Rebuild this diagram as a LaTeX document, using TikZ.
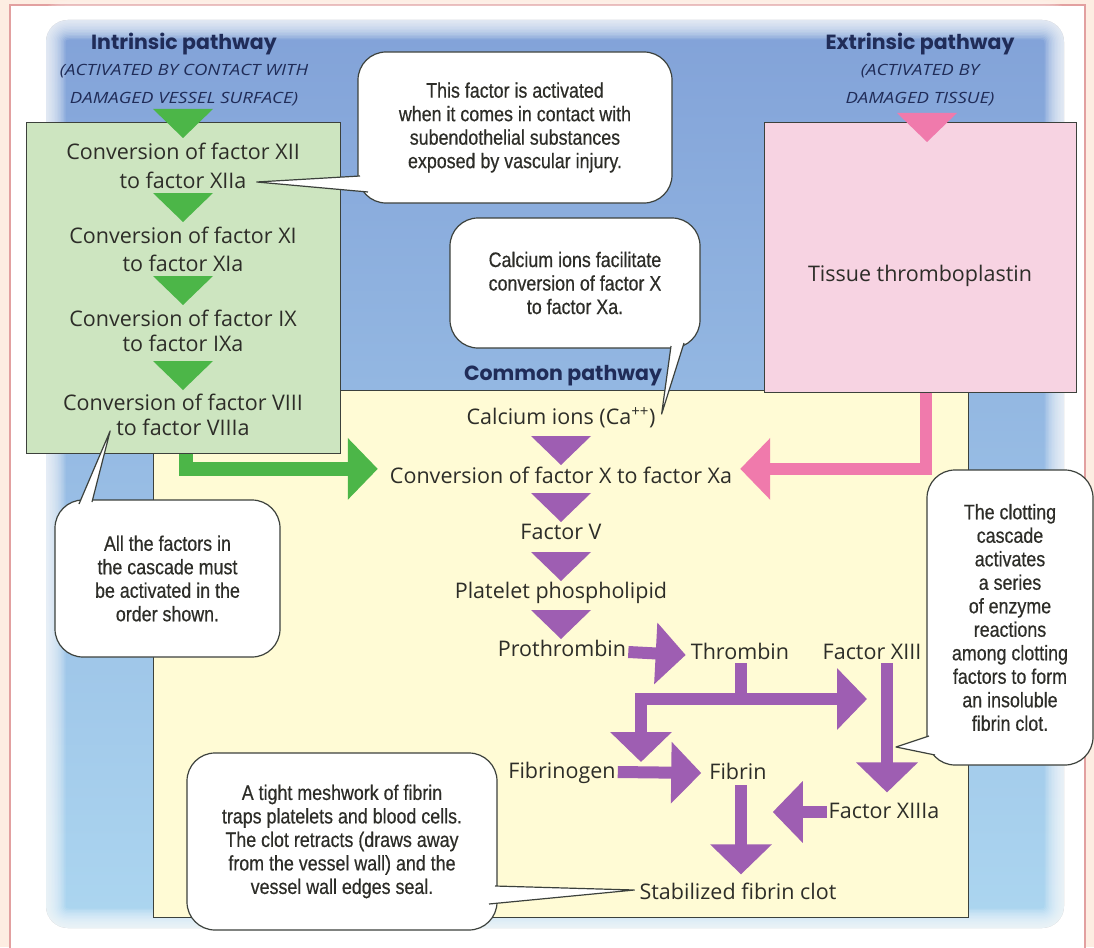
\documentclass[tikz,border=0pt]{standalone}
\usepackage{fontspec}
\setmainfont{Open Sans}
\newfontfamily\handfont{Open Sans}
\newfontfamily\subfont{Open Sans}[FakeStretch=1.2]
\newfontfamily\callfont{Liberation Sans}[FakeStretch=0.85,FakeBold=0.5]
\newfontfamily\titlefont{Poppins}
\usetikzlibrary{arrows.meta,calc}
\definecolor{peach}{RGB}{253,237,226}
\definecolor{framepink}{RGB}{226,160,160}
\definecolor{bluetop}{RGB}{130,162,216}
\definecolor{bluebot}{RGB}{172,214,240}
\definecolor{greenfill}{RGB}{205,229,192}
\definecolor{greenarr}{RGB}{76,182,72}
\definecolor{pinkfill}{RGB}{247,211,226}
\definecolor{pinkarr}{RGB}{240,122,172}
\definecolor{yellowfill}{RGB}{255,251,213}
\definecolor{purplearr}{RGB}{158,94,178}
\definecolor{navy}{RGB}{32,44,88}
\definecolor{ink}{RGB}{45,45,40}
\definecolor{edgegray}{RGB}{60,65,60}
\newcommand\downtri[3]{\fill[#3] (#1-30,#2-14) -- (#1+30,#2-14) -- (#1,#2+15) -- cycle;}
\begin{document}
\begin{tikzpicture}[x=1pt,y=-1pt,
  hand/.style={font={\handfont\fontsize{21.5}{26}\selectfont}, text=ink, inner sep=0pt, anchor=base},
  ttl/.style={font={\titlefont\bfseries\fontsize{20.5}{24}\selectfont}, text=navy, inner sep=0pt, anchor=base},
  subttl/.style={font={\subfont\itshape\fontsize{15.5}{18}\selectfont}, text=navy, inner sep=0pt, anchor=base},
  callout/.style={draw=edgegray, line width=1.2pt, fill=white, rounded corners=28pt, inner sep=0pt,
    font={\callfont\fontsize{21}{23.5}\selectfont}, text=ink, align=center},
  boxx/.style={draw=edgegray, line width=1pt, inner sep=0pt},
  tailfill/.style={fill=white},
  tailline/.style={draw=edgegray, line width=1.2pt, line join=round},
  gbar/.style={draw=greenarr, line width=14pt, line join=miter, -{Triangle[length=30pt,width=60pt]}},
  kbar/.style={draw=pinkarr, line width=12pt, line join=miter, -{Triangle[length=30pt,width=60pt]}},
  pbar/.style={draw=purplearr, line width=12pt, line join=miter, -{Triangle[length=30pt,width=60pt]}},
  pstub/.style={draw=purplearr, line width=12pt}
]
\useasboundingbox (0,0) rectangle (1094,947);
% frame
\fill[peach] (0,0) rectangle (1094,947);
\draw[framepink, line width=1.5pt, fill=white] (10,5) rectangle (1085,960);
% blue background with soft edge
\fill[top color=bluetop, bottom color=bluebot, rounded corners=22pt] (46,20) rectangle (1064,928);
\foreach \w in {3,6,...,39} \draw[white, opacity=0.11, line width=\w pt, rounded corners=22pt] (46,20) rectangle (1064,928);

% boxes
\node[boxx, fill=yellowfill, minimum width=815pt, minimum height=527pt] (ybox) at (560.5,653.5) {};
\node[boxx, fill=greenfill, minimum width=314pt, minimum height=330pt] (gbox) at (183,288) {};
\node[boxx, fill=pinkfill, minimum width=312pt, minimum height=269pt] (kbox) at (920,257.5) {};

% titles
\node[ttl] (intr) at (184,50) {Intrinsic pathway};
\node[subttl] (intr1) at (184,76) {(ACTIVATED BY CONTACT WITH};
\node[subttl] (intr2) at (184,103) {DAMAGED VESSEL SURFACE)};
\node[ttl] (extr) at (920,50) {Extrinsic pathway};
\node[subttl] (extr1) at (920,76) {(ACTIVATED BY};
\node[subttl] (extr2) at (920,103) {DAMAGED TISSUE)};
\node[ttl] (comm) at (563,380) {Common pathway};

% intrinsic texts
\node[hand] (g1a) at (183,159) {Conversion of factor XII};
\node[hand] (g1b) at (183,188) {to factor XIIa};
\node[hand] (g2a) at (183,243) {Conversion of factor XI};
\node[hand] (g2b) at (183,271) {to factor XIa};
\node[hand] (g3a) at (183,326) {Conversion of factor IX};
\node[hand] (g3b) at (183,351) {to factor IXa};
\node[hand] (g4a) at (183,410) {Conversion of factor VIII};
\node[hand] (g4b) at (183,435) {to factor VIIIa};
\node[hand] (tt) at (920,281) {Tissue thromboplastin};

% common texts
\node[hand] (ca) at (561,424) {Calcium ions (Ca\textsuperscript{++})};
\node[hand] (xconv) at (561,483) {Conversion of factor X to factor Xa};
\node[hand] (fv) at (561,539) {Factor V};
\node[hand] (pp) at (561,598) {Platelet phospholipid};
\node[hand] (pro) at (562,656) {Prothrombin};
\node[hand] (thr) at (740,659) {Thrombin};
\node[hand] (fxiii) at (872,659) {Factor XIII};
\node[hand] (fgen) at (562,778) {Fibrinogen};
\node[hand] (fib) at (738,779) {Fibrin};
\node[hand] (fxiiia) at (884,818) {Factor XIIIa};
\node[hand] (stab) at (738,899) {Stabilized fibrin clot};

% triangles
\downtri{183}{123}{greenarr}
\downtri{183}{207}{greenarr}
\downtri{183}{290}{greenarr}
\downtri{183}{375}{greenarr}
\downtri{927}{127}{pinkarr}
\downtri{561}{450}{purplearr}
\downtri{561}{507}{purplearr}
\downtri{561}{566}{purplearr}
\downtri{561}{624}{purplearr}

% green and pink arrows
\coordinate (gs) at ($(gbox.south)+(3,0)$);
\coordinate (gtip) at ($(xconv.west)+(-12,-6)$);
\draw[gbar] (gs) -- (gs |- gtip) -- (gtip);
\coordinate (ks) at ($(kbox.south)+(6,0)$);
\coordinate (ktip) at ($(xconv.east)+(8,-6)$);
\draw[kbar] (ks) -- (ks |- ktip) -- (ktip);

% purple arrows
\draw[pbar] ($(pro.base east)+(2,-4)$) -- ($(thr.base west)+(-5,-4)$);
\coordinate (tj) at (741,699);
\coordinate (tl) at (641,699);
\coordinate (tdown) at (641,762);
\coordinate (tright) at (867,699);
\draw[pstub] ($(thr.south)+(1,4)$) -- (tj);
\draw[draw=purplearr, line width=12pt, line join=miter, {Triangle[length=30pt,width=60pt]}-{Triangle[length=30pt,width=60pt]}] (tdown) -- (tl) -- (tright);
\draw[pbar] ($(fgen.base east)+(2,-6)$) -- ($(fib.base west)+(-8,-6)$);
\coordinate (x13a) at ($(fxiii.south)+(15,4)$);
\coordinate (x13b) at ($(fxiiia.north)+(3,-10)$);
\draw[pbar] (x13a) -- (x13a |- x13b);
\draw[pbar] ($(fxiiia.base west)+(-2,-6)$) -- ($(fib.base east)+(6,33)$);
\draw[pbar] ($(fib.south)+(3,6)$) -- ($(stab.north)+(3,-8)$);

% callouts
\node[callout, minimum width=314pt, minimum height=151pt] (c1) at (515,127.5)
  {This factor is activated\\ when it comes in contact with\\ subendothelial substances\\ exposed by vascular injury.};
\node[callout, minimum width=250pt, minimum height=130pt] (c2) at (575,283)
  {Calcium ions facilitate\\ conversion of factor X\\ to factor Xa.};
\node[callout, minimum width=225pt, minimum height=157pt] (c3) at (167.5,578.5)
  {All the factors in\\ the cascade must\\ be activated in the\\ order shown.};
\node[callout, minimum width=166pt, minimum height=295pt] (c4) at (1010,617.5)
  {The clotting\\ cascade\\ activates\\ a series\\ of enzyme\\ reactions\\ among clotting\\ factors to form\\ an insoluble\\ fibrin clot.};
\node[callout, minimum width=310pt, minimum height=177pt] (c5) at (342,841.5)
  {A tight meshwork of fibrin\\ traps platelets and blood cells.\\ The clot retracts (draws away\\ from the vessel wall) and the\\ vessel wall edges seal.};

% tails
\coordinate (t1) at ($(g1b.base east)+(10,-6)$);
\fill[tailfill] (360,176) -- (t1) -- (368,192) -- cycle;
\draw[tailline] (360,176) -- (t1) -- (368,192);
\coordinate (t2) at ($(ca.base east)+(6,-10)$);
\fill[tailfill] (671,346) -- (t2) -- (684,343) -- cycle;
\draw[tailline] (671,346) -- (t2) -- (684,343);
\coordinate (t3) at ($(g4b.base west)+(-6,-4)$);
\fill[tailfill] (79,504) -- (t3) -- (92,502) -- cycle;
\draw[tailline] (79,504) -- (t3) -- (92,502);
\coordinate (t4) at (896,747);
\fill[tailfill] (929,736) -- (t4) -- (935,755) -- cycle;
\draw[tailline] (929,736) -- (t4) -- (935,755);
\coordinate (t5) at ($(stab.base west)+(-5,-9)$);
\fill[tailfill] (495,886) -- (t5) -- (489,904) -- cycle;
\draw[tailline] (495,886) -- (t5) -- (489,904);
\end{tikzpicture}
\end{document}
